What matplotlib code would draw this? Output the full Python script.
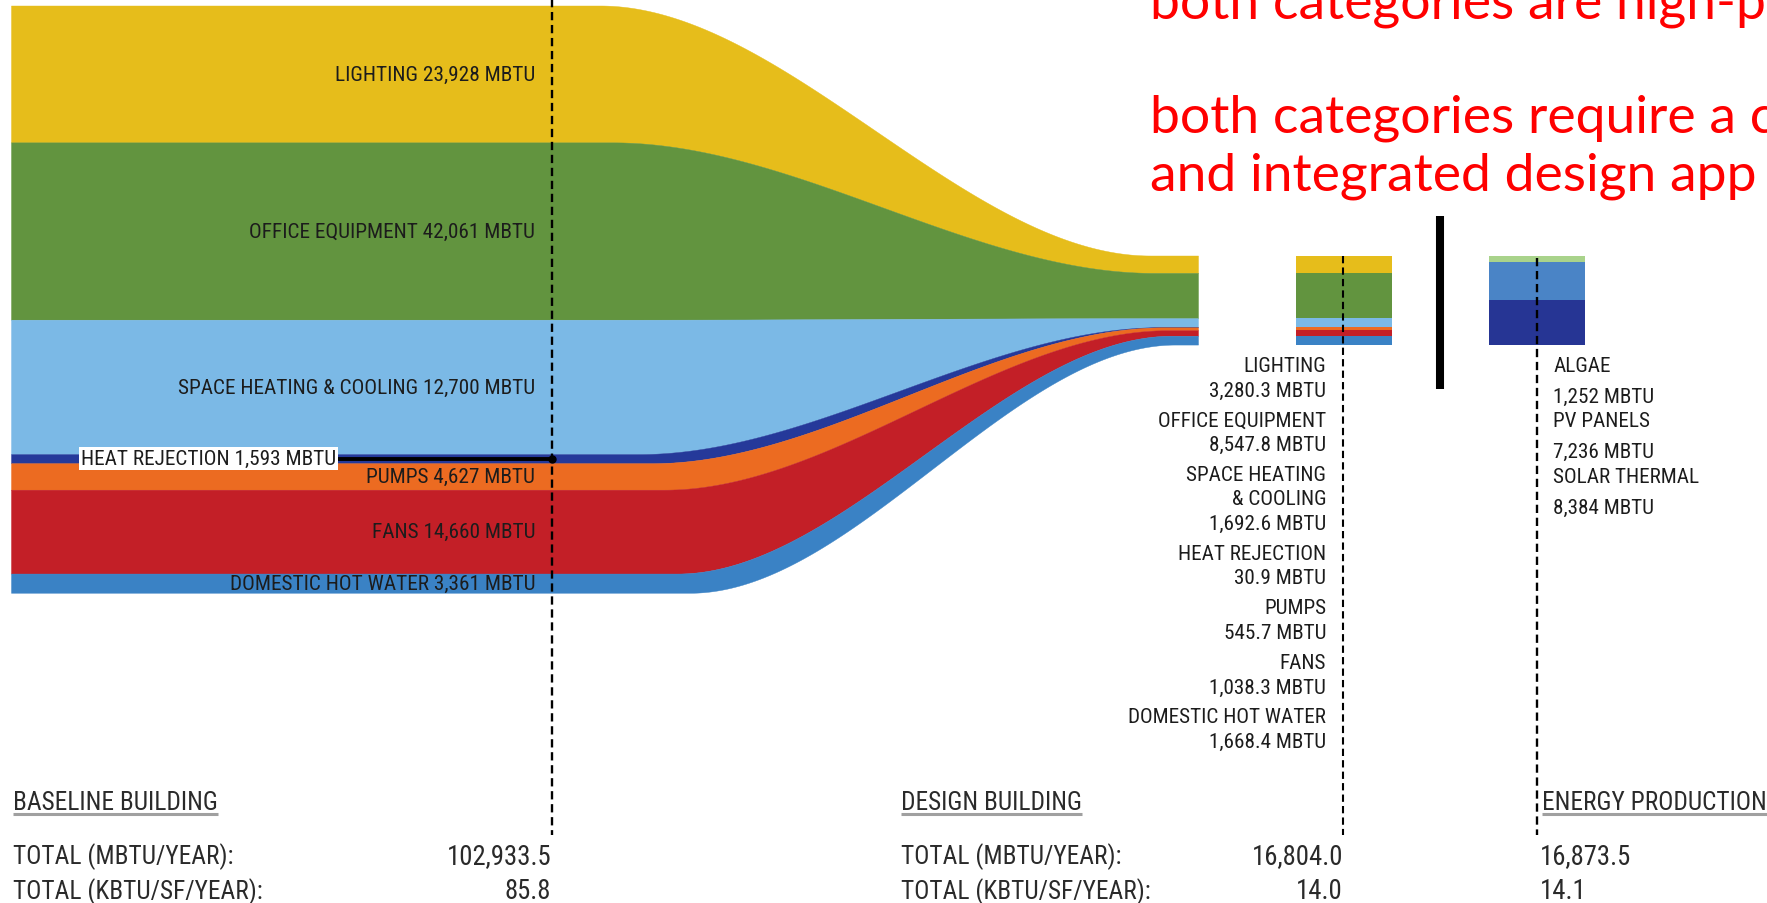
import numpy as np
import matplotlib.pyplot as plt
from matplotlib import font_manager

# ---------------- data ----------------
categories = ["LIGHTING", "OFFICE EQUIPMENT", "SPACE HEATING & COOLING",
              "HEAT REJECTION", "PUMPS", "FANS", "DOMESTIC HOT WATER"]
baseline_mbtu = [23928, 42061, 12700, 1593, 4627, 14660, 3361]
# band thickness as drawn in the original graphic (office / space heating not to scale there)
baseline_drawn = [23928, 31000, 23500, 1593, 4627, 14660, 3361]
design_mbtu = [3280.3, 8547.8, 1692.6, 30.9, 545.7, 1038.3, 1668.4]
design_names = [["LIGHTING"], ["OFFICE EQUIPMENT"], ["SPACE HEATING", "& COOLING"],
                ["HEAT REJECTION"], ["PUMPS"], ["FANS"], ["DOMESTIC HOT WATER"]]
colors = ["#e6bd1b", "#62943f", "#7bb9e6", "#25399a", "#ec6b21", "#c31f27", "#3a82c5"]

production = ["ALGAE", "PV PANELS", "SOLAR THERMAL"]
production_mbtu = [1252, 7236, 8384]
production_colors = ["#a9d38b", "#4a84c6", "#263594"]

total_rows = ["TOTAL (MBTU/YEAR):", "TOTAL (KBTU/SF/YEAR):"]
baseline_totals = ["102,933.5", "85.8"]
design_totals = ["16,804.0", "14.0"]
production_totals = ["16,873.5", "14.1"]

note_lines = ["both categories are high-p", "", "both categories require a c",
              "and integrated design app"]


def pick_condensed():
    fl = font_manager.fontManager.ttflist
    names = {f.name for f in fl}
    for n in ["Noto Sans Condensed", "Roboto Condensed", "Liberation Sans Narrow",
              "Open Sans Condensed", "Noto Sans SemiCondensed", "Noto Sans ExtraCondensed"]:
        if n in names:
            return {"family": n}
    for st in ["condensed", "semi-condensed", "extra-condensed"]:
        for f in fl:
            if f.stretch == st and "Mono" not in f.name and "Serif" not in f.name:
                return {"family": f.name, "fontstretch": st}
    for n in sorted(names, key=len):
        if ("Condensed" in n or "Narrow" in n) and "Mono" not in n and "Serif" not in n:
            return {"family": n}
    return {"family": "Liberation Sans"}


cond = pick_condensed()
TXT = "#1c1c1c"
FS_BAND = 15.3
FS_SIDE = 15.2

W, H = 1767, 904
fig = plt.figure(figsize=(W / 100, H / 100), dpi=100)
ax = fig.add_axes([0, 0, 1, 1])
ax.set_xlim(0, W)
ax.set_ylim(H, 0)
ax.axis("off")

# ---------------- flow from baseline to design ----------------
x_left, x_right = 11, 1198
top_base, scale_base = 6.5, 0.00572
top_design, scale_design = 256.5, 0.0053

edges_l = top_base + scale_base * np.concatenate([[0], np.cumsum(baseline_drawn)])
edges_r = top_design + scale_design * np.concatenate([[0], np.cumsum(design_mbtu)])
xs = np.linspace(x_left, x_right, 800)
n = len(edges_l)
curves = []
for i in range(n):
    xa = 600 + 90 * i / (n - 1)
    xb = 1150 + 25 * i / (n - 1)
    t = np.clip((xs - xa) / (xb - xa), 0, 1)
    s = t * t * (3 - 2 * t)
    curves.append(edges_l[i] + (edges_r[i] - edges_l[i]) * s)

for i in range(len(categories)):
    ax.fill_between(xs, curves[i], curves[i + 1], facecolor=colors[i],
                    edgecolor=colors[i], linewidth=0.3, zorder=1)

# labels on baseline bands
i_hr = categories.index("HEAT REJECTION")
for i, cat in enumerate(categories):
    if i == i_hr:
        continue
    yc = (edges_l[i] + edges_l[i + 1]) / 2
    ax.text(535, yc, f"{cat} {baseline_mbtu[i]:,} MBTU", ha="right", va="center",
            fontsize=FS_BAND, color=TXT, zorder=5, **cond)

y_hr = (edges_l[i_hr] + edges_l[i_hr + 1]) / 2
ax.plot([250, 552], [y_hr, y_hr], color="black", lw=2.8, zorder=3, solid_capstyle="butt")
ax.plot([552], [y_hr], "o", color="black", ms=5, zorder=6)
ax.text(81, y_hr, f"HEAT REJECTION {baseline_mbtu[i_hr]:,} MBTU", ha="left", va="center",
        fontsize=FS_BAND, color=TXT, zorder=5,
        bbox=dict(facecolor="white", edgecolor="none", pad=1.5), **cond)

# ---------------- design and production bars ----------------
d_vals = scale_design * np.array(design_mbtu)
d_bottom = top_design + np.concatenate([[0], np.cumsum(d_vals)[:-1]])
ax.bar(1344, d_vals, bottom=d_bottom, width=96, color=colors, linewidth=0, zorder=1)

p_vals = scale_design * np.array(production_mbtu)
p_bottom = top_design + np.concatenate([[0], np.cumsum(p_vals)[:-1]])
ax.bar(1537, p_vals, bottom=p_bottom, width=96, color=production_colors, linewidth=0, zorder=1)

# thick divider
ax.plot([1440, 1440], [217, 390], color="black", lw=5.8, solid_capstyle="butt")

# dashed guides
dash = (0, (3.5, 2))
ax.plot([552, 552], [0, 836], color="black", lw=1.7, ls=dash, zorder=4)
ax.plot([1343, 1343], [257, 836], color="black", lw=1.5, ls=dash, zorder=4)
ax.plot([1537, 1537], [259, 836], color="black", lw=1.7, ls=dash, zorder=4)

# design labels
y = 372
for names, v in zip(design_names, design_mbtu):
    lines = names + [f"{v:,.1f} MBTU"]
    for j, line in enumerate(lines):
        ax.text(1326, y, line, ha="right", va="baseline", fontsize=FS_SIDE, color=TXT, **cond)
        if j < len(lines) - 1:
            y += 24.5
    y += 30

# production labels
y = 372
for name, v in zip(production, production_mbtu):
    ax.text(1553, y, name, ha="left", va="baseline", fontsize=FS_SIDE, color=TXT, **cond)
    y += 30.5
    ax.text(1553, y, f"{v:,} MBTU", ha="left", va="baseline", fontsize=FS_SIDE, color=TXT, **cond)
    y += 25

# ---------------- totals block ----------------
BOT = "#2a2a2a"
FS_BOT = 18.3
heads = [(13, "BASELINE BUILDING", False), (901, "DESIGN BUILDING", False),
         (1542, "ENERGY PRODUCTION", True)]
head_texts = []
for hx, label, to_edge in heads:
    t = ax.text(hx, 810, label, ha="left", va="baseline", fontsize=FS_BOT, color=BOT, **cond)
    head_texts.append((t, to_edge))

for row, yb in zip(range(2), [864, 899]):
    ax.text(13, yb, total_rows[row], ha="left", va="baseline", fontsize=FS_BOT, color=BOT, **cond)
    ax.text(901, yb, total_rows[row], ha="left", va="baseline", fontsize=FS_BOT, color=BOT, **cond)
    ax.text(551, yb, baseline_totals[row], ha="right", va="baseline", fontsize=FS_BOT + 1, color=BOT, **cond)
    ax.text(1343, yb, design_totals[row], ha="right", va="baseline", fontsize=FS_BOT + 1, color=BOT, **cond)
    ax.text(1540, yb, production_totals[row], ha="left", va="baseline", fontsize=FS_BOT + 1, color=BOT, **cond)

# red note, clipped by the figure edge as in the source slide
for line, yb in zip(note_lines, [19, 76, 133, 190]):
    if line:
        ax.text(1150, yb, line, ha="left", va="baseline", fontsize=38.5, color="#ff0000",
                family=["Lato", "DejaVu Sans"], fontweight="normal", clip_on=False)

# underlines under the headings
fig.canvas.draw()
inv = ax.transData.inverted()
for t, to_edge in head_texts:
    bb = t.get_window_extent()
    x0, _ = inv.transform((bb.x0, bb.y0))
    x1, _ = inv.transform((bb.x1, bb.y0))
    if to_edge:
        x1 = W
    ax.plot([x0, x1], [815, 815], color="#a0a0a0", lw=2.2, solid_capstyle="butt")

fig.savefig("out.png", dpi=100, facecolor="white")
